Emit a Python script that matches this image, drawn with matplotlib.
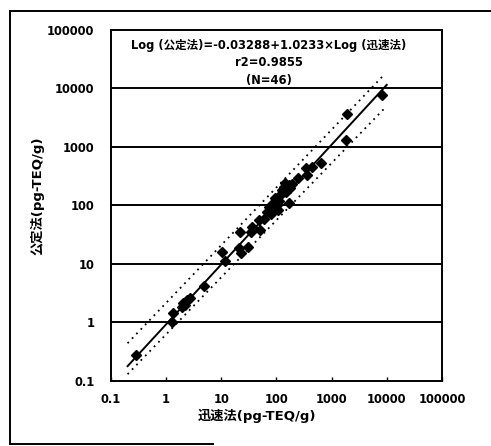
"""Scatter of 公定法 vs 迅速法 with log-log regression line and bands"""

import numpy as np
import matplotlib.pyplot as plt
from matplotlib.lines import Line2D

plt.rcParams['font.family'] = ['DejaVu Sans', 'Noto Sans CJK JP']
plt.rcParams['font.weight'] = 'bold'

# %% data
rapid = [0.29, 1.27, 1.36, 1.93, 2.06, 2.2, 2.38, 2.73, 4.8, 10.3, 11.8,
         20.6, 22, 22.8, 31, 35, 36, 48, 50, 59, 68, 72, 80, 83, 89, 96,
         103, 109, 110, 118, 126, 135, 144, 150, 166, 172, 179, 190, 241,
         340, 356, 448, 636, 1860, 1930, 8300]
official = [0.28, 1.0, 1.47, 1.86, 2.18, 2.0, 2.42, 2.59, 4.26, 16.2, 11.0,
            18.5, 34.8, 15.2, 19.3, 35.7, 43, 56, 38, 58, 78, 95, 70, 83,
            116, 133, 102, 83, 120, 151, 184, 209, 238, 170, 224, 112, 196,
            230, 292, 434, 333, 460, 523, 1320, 3660, 7770]

# regression: Log(公定法) = a + b * Log(迅速法)
reg_a, reg_b = -0.03288, 1.0233
reg_x = [0.2, 10000]

# dotted band lines (end points)
upper_x = [0.2, 8900]
upper_y = [0.44, 17000]
lower_x = [0.2, 9800]
lower_y = [0.13, 4900]

xticks = [0.1, 1, 10, 100, 1000, 10000, 100000]
yticks = [0.1, 1, 10, 100, 1000, 10000, 100000]
tick_labels = ["0.1", "1", "10", "100", "1000", "10000", "100000"]

# %% plot
fig = plt.figure(figsize=(4.91, 4.46), dpi=100)
ax = fig.add_axes([0.226, 0.146, 0.674, 0.787])

ax.set_xscale("log")
ax.set_yscale("log")
ax.set_xlim(0.1, 100000)
ax.set_ylim(0.1, 100000)

for yv in yticks[1:-1]:
    ax.axhline(yv, color="black", lw=1.4, zorder=1)

reg_y = [10 ** (reg_a + reg_b * np.log10(v)) for v in reg_x]
ax.plot(reg_x, reg_y, color="black", lw=1.4, zorder=2)
ax.plot(upper_x, upper_y, color="black", lw=1.3, ls=(0, (1, 2.5)), zorder=2)
ax.plot(lower_x, lower_y, color="black", lw=1.3, ls=(0, (1, 2.5)), zorder=2)

ax.plot(rapid, official, ls="none", marker="D", ms=5.5, color="black",
        zorder=3)

ax.set_xticks(xticks)
ax.set_xticklabels(tick_labels)
ax.set_yticks(yticks)
ax.set_yticklabels(tick_labels)
ax.minorticks_off()
ax.tick_params(axis="x", direction="in", length=3, width=1, pad=9,
               labelsize=8.3)
ax.tick_params(axis="y", length=0, pad=12, labelsize=8.3)
for s in ax.spines.values():
    s.set_linewidth(1.4)

ax.text(0.477, 0.975,
        "Log (公定法)=-0.03288+1.0233×Log (迅速法)\nr2=0.9855\n(N=46)",
        transform=ax.transAxes, ha="center", va="top", fontsize=8.3,
        fontweight="bold", linespacing=1.45)

fig.text(0.523, 0.068, "迅速法(pg-TEQ/g)", ha="center", va="center",
         fontsize=9.5, fontweight="bold")
fig.text(0.076, 0.56, "公定法(pg-TEQ/g)", ha="center", va="center",
         rotation=90, fontsize=9.5, fontweight="bold")

# outer frame (partly cut in the source scan)
fig.add_artist(Line2D([0.02, 1.0], [0.975, 0.975], color="black", lw=1.4,
                      transform=fig.transFigure))
fig.add_artist(Line2D([0.02, 0.02], [0.975, 0.005], color="black", lw=1.4,
                      transform=fig.transFigure))
fig.add_artist(Line2D([0.02, 0.434], [0.005, 0.005], color="black", lw=1.4,
                      transform=fig.transFigure))

fig.savefig("out.png", dpi=100)
